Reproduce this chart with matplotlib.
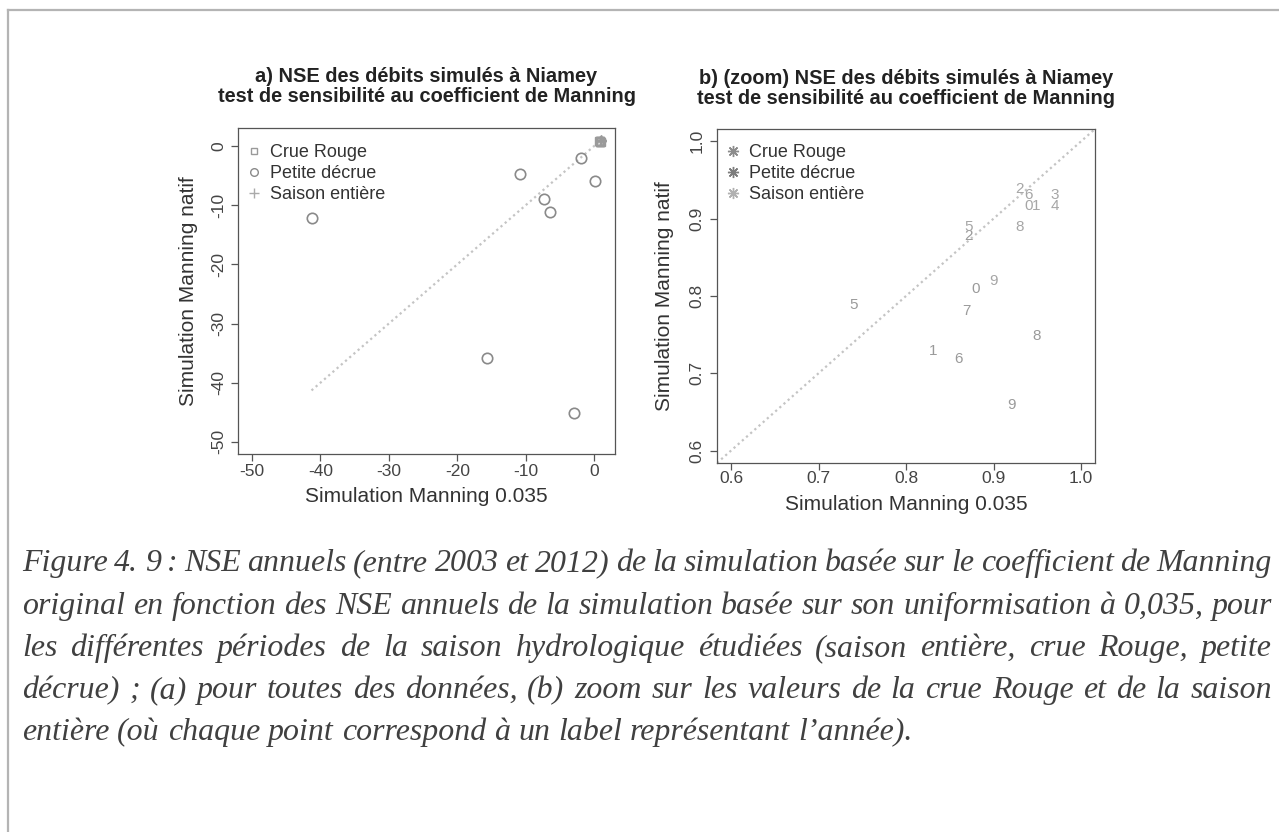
import matplotlib
matplotlib.use("Agg")
import matplotlib.pyplot as plt
from matplotlib.lines import Line2D

# NSE annuels, petite decrue (panel a only, circles)
decrue_x = [-2.0, -10.8, 0.1, -7.4, -6.4, -41.3, -15.7, -3.0]
decrue_y = [-2.0, -4.8, -5.9, -9.0, -11.1, -12.2, -35.8, -45.1]

# crue Rouge, labels = last digit of the year
rouge_lab = ['0', '1', '2', '5', '6', '7', '8', '9']
rouge_x = [0.880, 0.831, 0.871, 0.740, 0.860, 0.869, 0.949, 0.921]
rouge_y = [0.809, 0.729, 0.877, 0.788, 0.718, 0.781, 0.748, 0.659]

# saison entiere
saison_lab = ['0', '1', '2', '3', '4', '5', '6', '8', '9']
saison_x = [0.940, 0.949, 0.930, 0.970, 0.970, 0.871, 0.940, 0.930, 0.900]
saison_y = [0.917, 0.917, 0.939, 0.931, 0.917, 0.889, 0.931, 0.889, 0.819]

ticks_a = [-50, -40, -30, -20, -10, 0]
ticks_b = [0.6, 0.7, 0.8, 0.9, 1.0]

titles_a = ["a) NSE des débits simulés à Niamey",
            "test de sensibilité au coefficient de Manning"]
titles_b = ["b) (zoom) NSE des débits simulés à Niamey",
            "test de sensibilité au coefficient de Manning"]
legend_labels = ["Crue Rouge", "Petite décrue", "Saison entière"]
xlab = "Simulation Manning 0.035"
ylab = "Simulation Manning natif"

caption = [
    "Figure 4. 9 : NSE annuels (entre 2003 et 2012) de la simulation basée sur le coefficient de Manning",
    "original en fonction des NSE annuels de la simulation basée sur son uniformisation à 0,035, pour",
    "les différentes périodes de la saison hydrologique étudiées (saison entière, crue Rouge, petite",
    "décrue) ; (a) pour toutes des données, (b) zoom sur les valeurs de la crue Rouge et de la saison",
    "entière (où chaque point correspond à un label représentant l’année).",
]

W, H = 1279, 832
plt.rcParams['font.family'] = ['Liberation Sans', 'DejaVu Sans']
fig = plt.figure(figsize=(W / 100, H / 100), dpi=100)

# light grey frame of the page
fig.add_artist(Line2D([8 / W, 1], [1 - 10 / H, 1 - 10 / H], color='#b4b4b4', lw=1.6))
fig.add_artist(Line2D([8 / W, 8 / W], [0, 1 - 10 / H], color='#b4b4b4', lw=1.6))

ax1 = fig.add_axes([238 / W, 1 - 454 / H, (615 - 238) / W, (454 - 128) / H])
ax2 = fig.add_axes([717 / W, 1 - 463 / H, (1095 - 717) / W, (463 - 129) / H])


def r_style(ax, lo, hi, ticks, ticklabels, xpad, ypad):
    ext = (hi - lo) * 0.04
    ax.set_xlim(lo - ext, hi + ext)
    ax.set_ylim(lo - ext, hi + ext)
    ax.set_xticks(ticks)
    ax.set_yticks(ticks)
    ax.set_xticklabels(ticklabels)
    ax.set_yticklabels(ticklabels, rotation=90, va='center')
    ax.tick_params(axis='both', direction='out', length=5, width=0.9,
                   color='#555555', labelsize=12.5, labelcolor='#444444')
    ax.tick_params(axis='x', pad=xpad)
    ax.tick_params(axis='y', pad=ypad)
    for s in ax.spines.values():
        s.set_color('#555555')
        s.set_linewidth(0.9)
    ax.set_xlabel(xlab, fontsize=15, color='#333333')
    ax.set_ylabel(ylab, fontsize=15, color='#333333')
    ax.xaxis.label.set_va('center')
    ax.yaxis.label.set_va('center')


# ---- panel a
r_style(ax1, -50, 1, ticks_a, [str(t) for t in ticks_a], 2.0, 3.5)
ax1.xaxis.set_label_coords(0.5, -43 / 326)
ax1.yaxis.set_label_coords(-50 / 377, 0.5)
lo_d = min(decrue_x)
hi_d = max(rouge_x + saison_x)
ax1.plot([lo_d, hi_d], [lo_d, hi_d], color='#c4c4c4', lw=1.6, ls=(0, (1, 1.5)))
ax1.plot(decrue_x, decrue_y, 'o', ms=7.5, mfc='none', mec='#8a8a8a', mew=1.2)
ax1.plot(rouge_x, rouge_y, 's', ms=6, mfc='none', mec='#9a9a9a', mew=1.0)
ax1.plot(saison_x, saison_y, '+', ms=7, mec='#9a9a9a', mew=1.0)
h1 = [Line2D([], [], ls='none', marker='s', ms=5, mfc='none', mec='#9a9a9a', mew=1.0),
      Line2D([], [], ls='none', marker='o', ms=5.5, mfc='none', mec='#8a8a8a', mew=1.0),
      Line2D([], [], ls='none', marker='+', ms=7, mec='#aaaaaa', mew=1.0)]
ax1.legend(h1, legend_labels, loc='upper left', bbox_to_anchor=(0, 1 - 7 / 326),
           frameon=False, fontsize=13,
           handlelength=0.8, handletextpad=0.5, labelspacing=0.22,
           borderaxespad=0.2, borderpad=0.3, labelcolor='#333333')

# ---- panel b
r_style(ax2, 0.6, 1.0, ticks_b, ["%.1f" % t for t in ticks_b], 0.5, 4.0)
ax2.xaxis.set_label_coords(0.5, -42 / 334)
ax2.yaxis.set_label_coords(-52 / 378, 0.5)
ax2.axline((0.6, 0.6), slope=1, color='#c4c4c4', lw=1.6, ls=(0, (1, 1.5)))
for lab, x, y in zip(rouge_lab, rouge_x, rouge_y):
    ax2.text(x, y, lab, ha='center', va='center', fontsize=11, color='#9a9a9a')
for lab, x, y in zip(saison_lab, saison_x, saison_y):
    ax2.text(x, y, lab, ha='center', va='center', fontsize=11, color='#a6a6a6')
star = (8, 2, 0)
h2 = [Line2D([], [], ls='none', marker=star, ms=8, mec='#8c8c8c', mew=1.0),
      Line2D([], [], ls='none', marker=star, ms=8, mec='#7c7c7c', mew=1.0),
      Line2D([], [], ls='none', marker=star, ms=8, mec='#b0b0b0', mew=1.0)]
ax2.legend(h2, legend_labels, loc='upper left', bbox_to_anchor=(0, 1 - 6 / 334),
           frameon=False, fontsize=13,
           handlelength=0.8, handletextpad=0.5, labelspacing=0.22,
           borderaxespad=0.2, borderpad=0.3, labelcolor='#333333')

# titles
for ax, tl, ys in [(ax1, titles_a, (77, 97)), (ax2, titles_b, (79, 99))]:
    b = ax.get_position()
    cx = (b.x0 + b.x1) / 2
    for t, y in zip(tl, ys):
        fig.text(cx, 1 - y / H, t, ha='center', va='center', fontsize=14.4,
                 fontweight='bold', color='#222222')

# caption, justified like in the document
cap_kw = dict(family='Liberation Serif', style='italic', color='#404040')
r = fig.canvas.get_renderer()
probe = fig.text(0, 0, caption[-1], fontsize=20, **cap_kw)
cap_size = 20 * 888 / probe.get_window_extent(r).width
probe.remove()
x0, x1 = 22, 1272
baselines = [571, 614, 656, 698, 740]
for i, line in enumerate(caption):
    words = line.split(' ')
    arts = [fig.text(0, 1 - baselines[i] / H, w, fontsize=cap_size, va='baseline', **cap_kw)
            for w in words]
    widths = [a.get_window_extent(r).width for a in arts]
    if i < len(caption) - 1:
        gap = (x1 - x0 - sum(widths)) / (len(words) - 1)
    else:
        gap = cap_size * 0.25 * 100 / 72
    x = x0
    for a, w in zip(arts, widths):
        a.set_x(x / W)
        x += w + gap

fig.savefig("out.png", dpi=100)
